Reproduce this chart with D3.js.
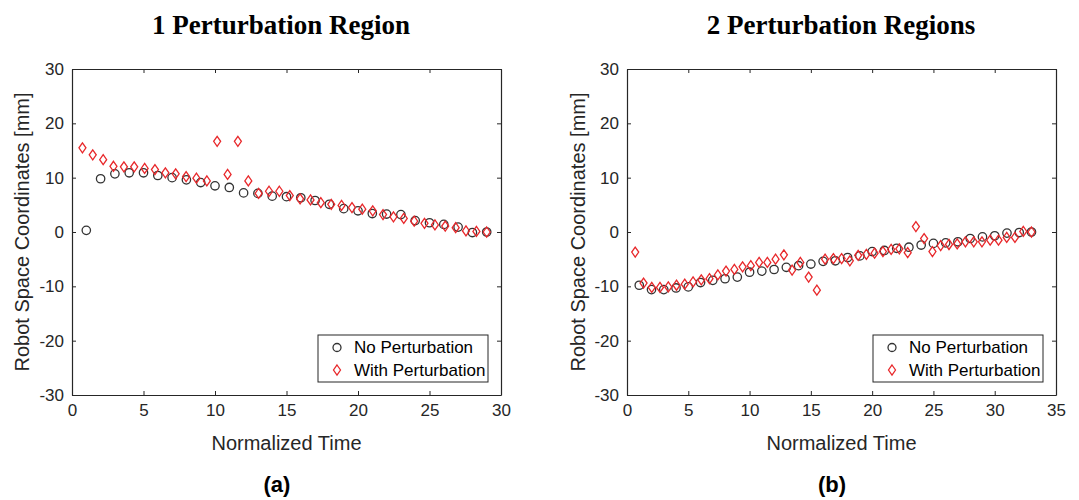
<!DOCTYPE html>
<html>
<head>
<meta charset="utf-8">
<script src="https://cdn.jsdelivr.net/npm/d3@7"></script>
<style>
  body { margin: 0; background: #fff; }
  text { font-family: "Liberation Sans", Arial, sans-serif; }
</style>
</head>
<body>
<div id="chart"></div>
<script>
// ---- data ----
const yTicks = [-30, -20, -10, 0, 10, 20, 30];
const xTicksA = [0, 5, 10, 15, 20, 25, 30];
const xTicksB = [0, 5, 10, 15, 20, 25, 30, 35];

// (a) 1 perturbation region
const timeNoA = [1,2,3,4,5,6,7,8,9,10,11,12,13,14,15,16,17,18,19,20,21,22,23,24,25,26,27,28,29];
const noPertA = [0.3,9.8,10.7,10.9,10.9,10.4,10.0,9.6,9.1,8.5,8.2,7.2,7.1,6.6,6.5,6.3,5.8,5.1,4.3,3.9,3.4,3.3,3.2,2.1,1.7,1.4,0.9,-0.1,0];
const timeWithA = [0.73,1.45,2.18,2.9,3.63,4.35,5.08,5.8,6.53,7.25,7.98,8.7,9.43,10.15,10.88,11.6,12.33,13.05,13.78,14.5,
  15.23,15.95,16.68,17.4,18.13,18.85,19.58,20.3,21.03,21.75,22.48,23.2,23.93,24.65,25.38,26.1,26.83,27.55,28.28,29.0];
const withPertA = [15.5,14.2,13.3,12.1,12.0,12.0,11.7,11.5,10.9,10.7,10.2,9.9,9.4,16.7,10.6,16.7,9.4,7.1,7.5,7.5,
  6.7,6.1,5.9,5.4,5.1,4.9,4.5,4.2,3.9,3.2,2.8,2.5,2.0,1.6,1.3,1.1,0.8,0.2,0.1,0];

// (b) 2 perturbation regions
const timeNoB = [1,2,3,4,5,6,7,8,9,10,11,12,13,14,15,16,17,18,19,20,21,22,23,24,25,26,27,28,29,30,31,32,33];
const noPertB = [-9.8,-10.6,-10.6,-10.3,-10.1,-9.3,-8.9,-8.6,-8.3,-7.4,-7.2,-6.9,-6.5,-6.2,-5.9,-5.4,-5.3,-4.7,-4.4,-3.6,
  -3.4,-3.0,-2.8,-2.4,-2.1,-2.0,-1.8,-1.2,-0.9,-0.7,-0.2,-0.1,0];
const timeWithB = [0.67,1.35,2.02,2.69,3.37,4.04,4.71,5.39,6.06,6.73,7.41,8.08,8.76,9.43,10.1,10.78,11.45,12.12,12.8,13.47,
  14.14,14.82,15.49,16.16,16.84,17.51,18.18,18.86,19.53,20.2,20.88,21.55,22.22,22.9,23.57,24.24,24.92,25.59,26.27,26.94,
  27.61,28.29,28.96,29.63,30.31,30.98,31.65,32.33,33.0];
const withPertB = [-3.7,-9.4,-10.2,-10.2,-10.1,-9.8,-9.6,-9.2,-8.8,-8.6,-7.9,-7.2,-6.9,-6.4,-6.2,-5.6,-5.6,-5.0,-4.2,-7.0,
  -5.6,-8.3,-10.7,-5.0,-4.9,-4.9,-5.3,-4.3,-4.1,-3.9,-3.6,-3.2,-3.1,-3.8,1.0,-1.2,-3.6,-2.5,-2.3,-2.2,
  -1.8,-1.8,-1.8,-1.5,-1.5,-1.0,-1.0,0.1,0];

const seriesNames = ["No Perturbation", "With Perturbation"];

const W = 1079, H = 500;
const axisColor = "#262626";
const circleColor = "#333333";
const diamondColor = "#e8282b";

const svg = d3.select("#chart").append("svg")
  .attr("width", W).attr("height", H);
svg.append("rect").attr("width", W).attr("height", H).attr("fill", "#fff");

const diamond = "M0,-5L3.5,0L0,5L-3.5,0Z";
const plainNum = d => String(d); // keep ascii hyphen like matlab

function drawPanel(p) {
  const x = d3.scaleLinear().domain(p.xDomain).range([p.left, p.right]);
  const y = d3.scaleLinear().domain([-30, 30]).range([p.bottom, p.top]);
  const g = svg.append("g");

  // title
  g.append("text")
    .attr("x", p.titleX).attr("y", 34)
    .attr("text-anchor", "middle")
    .style("font-family", "'Liberation Serif', 'Times New Roman', serif")
    .style("font-weight", "bold").style("font-size", "27px")
    .attr("fill", "#000")
    .text(p.title);

  // axes
  const bottom = d3.axisBottom(x).tickValues(p.xTicks).tickFormat(plainNum).tickSizeInner(-4).tickSizeOuter(0).tickPadding(9);
  const top = d3.axisTop(x).tickValues(p.xTicks).tickSizeInner(-4).tickSizeOuter(0).tickFormat("");
  const left = d3.axisLeft(y).tickValues(yTicks).tickFormat(plainNum).tickSizeInner(-4).tickSizeOuter(0).tickPadding(8);
  const right = d3.axisRight(y).tickValues(yTicks).tickSizeInner(-4).tickSizeOuter(0).tickFormat("");

  const ax = [
    g.append("g").attr("transform", `translate(0,${p.bottom})`).call(bottom),
    g.append("g").attr("transform", `translate(0,${p.top})`).call(top),
    g.append("g").attr("transform", `translate(${p.left},0)`).call(left),
    g.append("g").attr("transform", `translate(${p.right},0)`).call(right)
  ];
  ax.forEach(a => {
    a.select(".domain").attr("stroke", axisColor).attr("stroke-width", 1.2);
    a.selectAll(".tick line").attr("stroke", axisColor).attr("stroke-width", 1);
    a.selectAll(".tick text").attr("fill", axisColor)
      .style("font-family", "'Liberation Sans', Arial, sans-serif").style("font-size", "17px");
  });

  // axis labels
  g.append("text")
    .attr("x", (p.left + p.right) / 2).attr("y", 450)
    .attr("text-anchor", "middle").attr("fill", axisColor)
    .style("font-size", "20px")
    .text("Normalized Time");
  g.append("text")
    .attr("transform", `translate(${p.yLabelX},${(p.top + p.bottom) / 2}) rotate(-90)`)
    .attr("text-anchor", "middle").attr("dy", "0.35em").attr("fill", axisColor)
    .style("font-size", "20px")
    .text("Robot Space Coordinates [mm]");

  // sub-caption
  g.append("text")
    .attr("x", p.capX).attr("y", 492)
    .attr("text-anchor", "middle").attr("fill", "#000")
    .style("font-size", "22px").style("font-weight", "bold")
    .text(p.caption);

  // points
  g.append("g").selectAll("circle")
    .data(p.noT.map((t, i) => [t, p.noV[i]]))
    .join("circle")
    .attr("cx", d => x(d[0])).attr("cy", d => y(d[1])).attr("r", 4.2)
    .attr("fill", "none").attr("stroke", circleColor).attr("stroke-width", 1.3);

  g.append("g").selectAll("path")
    .data(p.withT.map((t, i) => [t, p.withV[i]]))
    .join("path")
    .attr("d", diamond)
    .attr("transform", d => `translate(${x(d[0])},${y(d[1])})`)
    .attr("fill", "none").attr("stroke", diamondColor).attr("stroke-width", 1.3);

  // legend
  const lg = g.append("g").attr("transform", `translate(${p.legX},335)`);
  lg.append("rect").attr("width", 170).attr("height", 47)
    .attr("fill", "#fff").attr("stroke", axisColor).attr("stroke-width", 1);
  lg.append("circle").attr("cx", 19).attr("cy", 12.5).attr("r", 4)
    .attr("fill", "none").attr("stroke", circleColor).attr("stroke-width", 1.3);
  lg.append("path").attr("d", diamond).attr("transform", "translate(19,35)")
    .attr("fill", "none").attr("stroke", diamondColor).attr("stroke-width", 1.3);
  seriesNames.forEach((n, i) => {
    lg.append("text").attr("x", 36).attr("y", 12.5 + i * 22.5).attr("dy", "0.35em")
      .attr("fill", "#000").style("font-size", "17px").text(n);
  });
}

drawPanel({
  title: "1 Perturbation Region", titleX: 281, caption: "(a)", capX: 277,
  left: 72, right: 501, top: 69, bottom: 395, xDomain: [0, 30], xTicks: xTicksA,
  yLabelX: 22, legX: 318,
  noT: timeNoA, noV: noPertA, withT: timeWithA, withV: withPertA
});
drawPanel({
  title: "2 Perturbation Regions", titleX: 841, caption: "(b)", capX: 832,
  left: 627, right: 1056, top: 69, bottom: 395, xDomain: [0, 35], xTicks: xTicksB,
  yLabelX: 578, legX: 873,
  noT: timeNoB, noV: noPertB, withT: timeWithB, withV: withPertB
});
</script>
</body>
</html>
